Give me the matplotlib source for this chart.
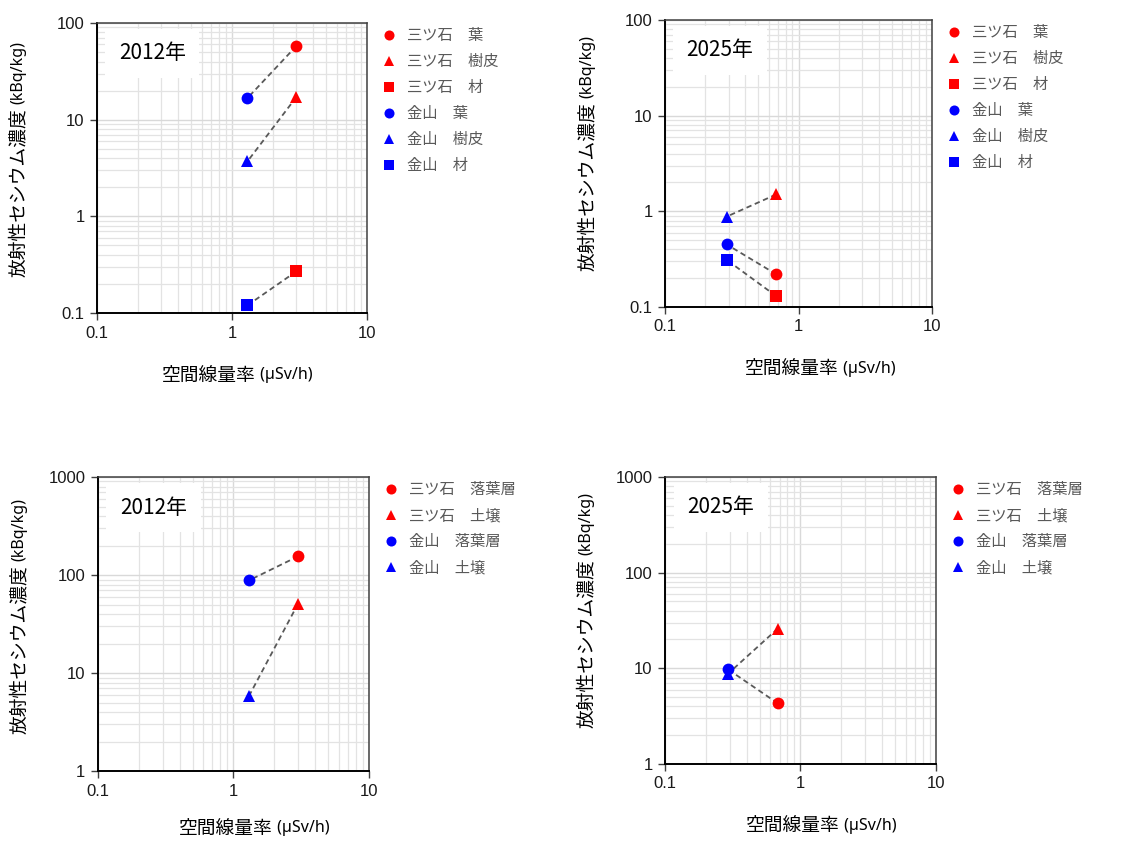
import matplotlib
matplotlib.use('Agg')
import matplotlib.pyplot as plt
from matplotlib.ticker import LogLocator, NullFormatter, FixedLocator, FixedFormatter

plt.rcParams['font.family'] = ['Noto Sans CJK JP', 'DejaVu Sans']

# 空間線量率 (µSv/h) : [三ツ石, 金山]
dose_2012 = [3.0, 1.3]
dose_2025 = [0.68, 0.29]

# 樹木 (kBq/kg) : [三ツ石, 金山]
leaf_2012 = [58.0, 16.7]
bark_2012 = [17.2, 3.7]
wood_2012 = [0.27, 0.12]
leaf_2025 = [0.22, 0.45]
bark_2025 = [1.5, 0.88]
wood_2025 = [0.13, 0.31]

# 落葉層・土壌 (kBq/kg) : [三ツ石, 金山]
litter_2012 = [155.0, 88.0]
soil_2012 = [51.0, 5.8]
litter_2025 = [4.3, 9.8]
soil_2025 = [26.0, 8.7]

sites = ['三ツ石', '金山']
site_colors = ['#ff0000', '#0000ff']
tree_parts = ['葉', '樹皮', '材']
ground_parts = ['落葉層', '土壌']
part_markers = {'葉': 'o', '樹皮': '^', '材': 's', '落葉層': 'o', '土壌': '^'}

gray_txt = '#595959'

fig = plt.figure(figsize=(11.22, 8.41), dpi=100)

panels = [
    # rect, year, dose, series dict, parts, ylim, xlabel start, xlabel y
    ([0.0865, 0.6278, 0.2406, 0.3448], '2012年', dose_2012,
     {'葉': leaf_2012, '樹皮': bark_2012, '材': wood_2012}, tree_parts, (0.1, 100), 0.24, -0.215),
    ([0.5927, 0.6350, 0.2380, 0.3413], '2025年', dose_2025,
     {'葉': leaf_2025, '樹皮': bark_2025, '材': wood_2025}, tree_parts, (0.1, 100), 0.30, -0.215),
    ([0.0873, 0.0832, 0.2415, 0.3496], '2012年', dose_2012,
     {'落葉層': litter_2012, '土壌': soil_2012}, ground_parts, (1, 1000), 0.30, -0.195),
    ([0.5927, 0.0916, 0.2415, 0.3413], '2025年', dose_2025,
     {'落葉層': litter_2025, '土壌': soil_2025}, ground_parts, (1, 1000), 0.30, -0.215),
]

for rect, year, dose, series, parts, ylim, xl_start, xl_y in panels:
    ax = fig.add_axes(rect)
    ax.set_xscale('log')
    ax.set_yscale('log')
    ax.set_xlim(0.1, 10)
    ax.set_ylim(*ylim)

    # dashed connectors between the two sites
    for part in parts:
        ax.plot(dose, series[part], linestyle=(0, (3, 2)), color='#595959',
                linewidth=1.3, zorder=3)

    for si, site in enumerate(sites):
        for part in parts:
            m = part_markers[part]
            ms = 9 if m == '^' else 8.5 if m == 'o' else 8
            ax.plot([dose[si]], [series[part][si]], linestyle='None', marker=m,
                    markersize=ms, color=site_colors[si], markeredgewidth=0,
                    label=site + '\u3000' + part, zorder=4)

    # grid
    ax.xaxis.set_minor_locator(LogLocator(base=10, subs=range(2, 10)))
    ax.yaxis.set_minor_locator(LogLocator(base=10, subs=range(2, 10)))
    ax.xaxis.set_minor_formatter(NullFormatter())
    ax.yaxis.set_minor_formatter(NullFormatter())
    ax.grid(which='major', color='#d9d9d9', linewidth=1.0, zorder=0)
    ax.grid(which='minor', color='#e3e3e3', linewidth=0.9, zorder=0)
    ax.set_axisbelow(True)

    xt = [0.1, 1, 10]
    ax.xaxis.set_major_locator(FixedLocator(xt))
    ax.xaxis.set_major_formatter(FixedFormatter(['0.1', '1', '10']))
    yt = [ylim[0] * 10 ** k for k in range(4)]
    ax.yaxis.set_major_locator(FixedLocator(yt))
    ax.yaxis.set_major_formatter(FixedFormatter([('%g' % v) for v in yt]))
    ax.tick_params(which='major', direction='out', length=5, width=1.0,
                   color='#404040', labelsize=12, pad=4,
                   labelfontfamily='Liberation Sans', labelcolor='#1a1a1a')
    ax.tick_params(which='minor', length=0)

    for side in ['left', 'bottom']:
        ax.spines[side].set_color('#000000')
        ax.spines[side].set_linewidth(1.4)
    for side in ['top', 'right']:
        ax.spines[side].set_color('#404040')
        ax.spines[side].set_linewidth(1.1)

    # year label with white box
    ax.text(0.205, 0.895, year, transform=ax.transAxes, ha='center', va='center',
            fontsize=15, color='black', zorder=5,
            bbox=dict(boxstyle='square,pad=0.65', facecolor='white', edgecolor='none'))

    # axis labels (Japanese part larger, unit smaller)
    t1 = ax.text(xl_start, xl_y, '空間線量率', transform=ax.transAxes,
                 ha='left', va='center', fontsize=13.5)
    ax.annotate(' (µSv/h)', xy=(1, 0.5), xycoords=t1, ha='left', va='center',
                fontsize=11.5, family=['Noto Sans', 'DejaVu Sans'])
    t2 = ax.text(-0.29, 0.125, '放射性セシウム濃度', transform=ax.transAxes,
                 ha='center', va='bottom', rotation=90, fontsize=13.5)
    ax.annotate('(kBq/kg)', xy=(0.5, 1), xycoords=t2, xytext=(0, 3),
                textcoords='offset points', ha='center', va='bottom',
                rotation=90, fontsize=11.5, family=['Noto Sans', 'DejaVu Sans'])

    ax.legend(loc='upper left', bbox_to_anchor=(1.052, 0.986), borderaxespad=0,
              borderpad=0, frameon=False, fontsize=11, handlelength=1.0,
              handletextpad=0.7, labelspacing=0.59, markerscale=0.85,
              labelcolor=gray_txt)

fig.savefig('out.png', dpi=100)
